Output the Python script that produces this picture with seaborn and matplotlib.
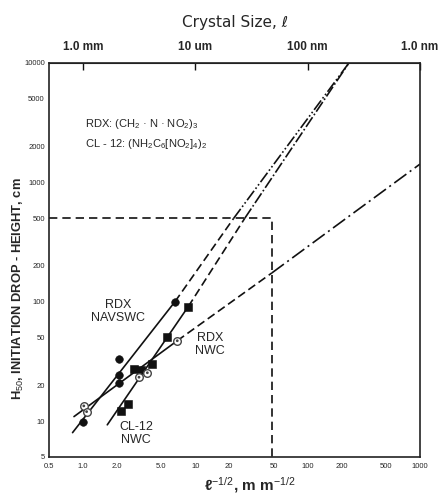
import matplotlib
matplotlib.use('Agg')
import matplotlib.pyplot as plt
import matplotlib.ticker as mticker
import numpy as np
import pandas as pd
import seaborn as sns

# measured points, x = l^-1/2 (mm^-1/2), y = H50 (cm)
navswc_x = [1.0, 2.1, 2.1, 2.1, 6.6]
navswc_y = [9.9, 32.9, 24.3, 20.7, 100]
cl12_x = [2.18, 2.54, 2.85, 3.27, 4.12, 5.57, 8.67]
cl12_y = [12.2, 13.9, 27.1, 26.8, 30.1, 50.3, 90.7]
nwc_x = [1.02, 1.08, 3.16, 3.75, 6.92]
nwc_y = [13.4, 12.0, 23.3, 25.4, 47.1]

# fitted lines: solid part, dashed extension, dash-dot extrapolation
line_a = {"solid": ([0.81, 6.6], [8.0, 100]),
          "dash": ([6.6, 22], [100, 500]),
          "dot": ([22, 233], [500, 10000])}
line_b = {"solid": ([1.65, 8.67], [9.3, 91]),
          "dash": ([8.67, 27.6], [91, 500]),
          "dot": ([27.6, 233], [500, 10000])}
line_c = {"solid": ([0.834, 6.92], [10.9, 47.1]),
          "dash": ([6.92, 48], [47.1, 174]),
          "dot": ([48, 1000], [174, 1422])}

guide_x = [0.5, 48, 48]
guide_y = [500, 500, 5]

top_ticks = [1, 10, 100, 1000]
top_labels = ["1.0 mm", "10 um", "100 nm", "1.0 nm"]

sns.set_style("white")
plt.rcParams['font.family'] = ['Liberation Sans', 'DejaVu Sans']
plt.rcParams['mathtext.fontset'] = 'custom'
plt.rcParams['mathtext.rm'] = 'Liberation Sans'
plt.rcParams['mathtext.it'] = 'Liberation Sans:italic'
plt.rcParams['mathtext.bf'] = 'Liberation Sans:bold'

fig = plt.figure(figsize=(4.38, 4.97), dpi=100)
ax = fig.add_axes([0.1119, 0.0805, 0.847, 0.7928])
ax.set_xscale("log")
ax.set_yscale("log")
ax.set_xlim(0.5, 1000)
ax.set_ylim(5, 10000)

c = "#111111"
styles = {"solid": "-", "dash": (0, (5, 2.5)), "dot": None}
for line, dot_style in [(line_a, (0, (7, 1.5, 1, 1.5, 1, 1.5))),
                        (line_b, (0, (7, 1.5, 1, 1.5))),
                        (line_c, (0, (9, 2.5, 1.2, 2.5)))]:
    for part, (xs, ys) in line.items():
        ls = dot_style if part == "dot" else styles[part]
        ax.plot(xs, ys, color=c, lw=1.2, linestyle=ls)

ax.plot(guide_x, guide_y, color=c, lw=1.2, linestyle=(0, (5, 3)))

df_a = pd.DataFrame({"x": navswc_x, "y": navswc_y})
df_b = pd.DataFrame({"x": cl12_x, "y": cl12_y})
df_c = pd.DataFrame({"x": nwc_x, "y": nwc_y})
sns.scatterplot(data=df_a, x="x", y="y", ax=ax, marker="o", s=30,
                color=c, edgecolor=c, zorder=5)
sns.scatterplot(data=df_b, x="x", y="y", ax=ax, marker="s", s=26,
                color=c, edgecolor=c, zorder=5)
sns.scatterplot(data=df_c, x="x", y="y", ax=ax, marker="o", s=30,
                color="white", edgecolor="#444444", linewidth=1.0, zorder=5)
sns.scatterplot(data=df_c, x="x", y="y", ax=ax, marker="o", s=4,
                color="#444444", edgecolor="none", zorder=6)
ax.set_xlabel("")
ax.set_ylabel("")

# ticks
for axis in (ax.xaxis, ax.yaxis):
    axis.set_major_locator(mticker.LogLocator(base=10))
    axis.set_minor_locator(mticker.LogLocator(base=10, subs=np.arange(2, 10)))

x_major = {1: "1.0", 10: "10", 100: "100", 1000: "1000"}
x_minor = {0.5: "0.5", 2: "2.0", 5: "5.0", 20: "20", 50: "50", 200: "200", 500: "500"}
y_major = {10: "10", 100: "100", 1000: "1000", 10000: "10000"}
y_minor = {5: "5", 20: "20", 50: "50", 200: "200", 500: "500", 2000: "2000", 5000: "5000"}


def fmt(table):
    def f(v, pos):
        for k, lab in table.items():
            if abs(v - k) / k < 1e-6:
                return lab
        return ""
    return mticker.FuncFormatter(f)


ax.xaxis.set_major_formatter(fmt(x_major))
ax.xaxis.set_minor_formatter(fmt(x_minor))
ax.yaxis.set_major_formatter(fmt(y_major))
ax.yaxis.set_minor_formatter(fmt(y_minor))
ax.tick_params(which="both", direction="in", labelsize=5.5, color=c,
               top=False, right=False)
ax.tick_params(axis="x", which="both", pad=4)
ax.tick_params(axis="y", which="both", pad=3)
ax.tick_params(which="major", length=8, width=1.0)
ax.tick_params(which="minor", length=4, width=0.8)
for s in ax.spines.values():
    s.set_color("#222222")
    s.set_linewidth(1.2)

top = ax.secondary_xaxis("top")
top.set_xticks(top_ticks)
top.set_xticklabels(top_labels, fontweight="bold", fontsize=8.5)
top.xaxis.set_minor_locator(mticker.NullLocator())
top.tick_params(direction="in", length=5, width=1.0, pad=7, color=c)
top.set_xlabel("Crystal Size, ℓ", fontsize=11, labelpad=10,
               family=['DejaVu Sans', 'Liberation Sans'])

# labels
fig.text(0.57, 0.025, r"ℓ$^{-1/2}$, m m$^{-1/2}$", ha="center", va="center",
         fontsize=11, fontweight="bold")
fig.text(0.042, 0.42, r"H$_{50}$, INITIATION DROP - HEIGHT, cm", rotation=90,
         ha="center", va="center", fontsize=9.3, fontweight="bold")

ax.text(2.06, 83, "RDX\nNAVSWC", ha="center", va="center", fontsize=9,
        linespacing=1.1)
ax.text(13.5, 44, "RDX\nNWC", ha="center", va="center", fontsize=9,
        linespacing=1.1)
ax.text(2.97, 7.8, "CL-12\nNWC", ha="center", va="center", fontsize=9,
        linespacing=1.1)
ax.text(1.05, 3100, r"RDX: (CH$_2$ · N · NO$_2$)$_3$", fontsize=8,
        ha="left", va="center")
ax.text(1.05, 2100, r"CL - 12: (NH$_2$C$_6$[NO$_2$]$_4$)$_2$", fontsize=8,
        ha="left", va="center")

fig.savefig("out.png", dpi=100)
